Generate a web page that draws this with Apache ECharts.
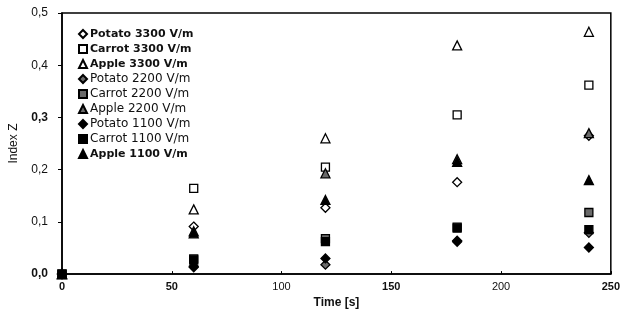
<!DOCTYPE html>
<html><head><meta charset="utf-8">
<script src="https://cdn.jsdelivr.net/npm/echarts@6/dist/echarts.min.js"></script>
<style>html,body{margin:0;padding:0;background:#fff}#c{width:623px;height:314px}</style>
</head><body><div id="c"></div>
<script>
const times = [0, 60, 120, 180, 240];
const potato3300 = [0, 0.091, 0.127, 0.176, 0.265];
const carrot3300 = [0, 0.164, 0.205, 0.305, 0.362];
const apple3300  = [0, 0.124, 0.260, 0.438, 0.464];
const potato2200 = [0, 0.015, 0.018, 0.064, 0.079];
const carrot2200 = [0, 0.029, 0.068, 0.090, 0.118];
const apple2200  = [0, 0.082, 0.193, 0.220, 0.270];
const potato1100 = [0, 0.013, 0.030, 0.062, 0.051];
const carrot1100 = [0, 0.027, 0.062, 0.088, 0.085];
const apple1100  = [0, 0.078, 0.142, 0.215, 0.180];
const seriesNames = ['Potato 3300 V/m','Carrot 3300 V/m','Apple 3300 V/m','Potato 2200 V/m','Carrot 2200 V/m','Apple 2200 V/m','Potato 1100 V/m','Carrot 1100 V/m','Apple 1100 V/m'];
const xTickLabels = ['0','50','100','150','200','250'];
const yTickLabels = ['0,0','0,1','0,2','0,3','0,4','0,5'];

const seriesValues = [potato3300, carrot3300, apple3300, potato2200, carrot2200, apple2200, potato1100, carrot1100, apple1100];
const shapes = ['diamond','rect','triangle'];
const fills = ['#ffffff','#6a6a6a','#000000'];
const boldLegend = [true,true,true,false,false,false,false,false,true];
const boldX = {'0':1,'50':1,'150':1,'250':1};
const boldY = {'0,0':1,'0,3':1};
const FONT = 'Liberation Sans, Arial, sans-serif';
const LFONT = 'DejaVu Sans, sans-serif';

const series = seriesNames.map((n,i)=>{
  const shape = shapes[i%3];
  const sz = shape==='rect' ? 8 : 9;
  return {
    name: n, type: 'scatter', clip: false,
    symbol: shape, symbolSize: sz,
    itemStyle: {color: fills[Math.floor(i/3)], borderColor: '#000', borderWidth: 1.3, opacity: 1},
    data: times.map((t,k)=>[t, seriesValues[i][k]]),
    z: 2 + i
  };
});

const chart = echarts.init(document.getElementById('c'), null, {renderer:'canvas'});
chart.setOption({
  animation: false,
  backgroundColor: '#fff',
  textStyle: {fontFamily: FONT},
  grid: {left: 60, right: 11, top: 13, bottom: 26, show: true, borderColor: '#000', borderWidth: 1.5, backgroundColor: 'transparent'},
  legend: {
    orient: 'vertical', left: 73, top: 23,
    itemWidth: 8, itemHeight: 8, itemGap: 3,
    textStyle: {fontSize: 12, lineHeight: 12, color: '#111', fontFamily: LFONT, padding: [0,0,0,-2]},
    data: seriesNames.map((n,i)=>({name: n, textStyle: boldLegend[i] ? {fontWeight: 'bold', fontSize: 11, lineHeight: 12} : {fontWeight: 'normal'}}))
  },
  xAxis: {
    type: 'value', min: 0, max: 250, interval: 50,
    name: 'Time [s]', nameLocation: 'middle', nameGap: 15,
    nameTextStyle: {fontSize: 12, fontWeight: 'bold', color: '#111'},
    axisLine: {show: true, onZero: false, lineStyle: {color: '#000', width: 1.5}},
    axisTick: {show: true, inside: true, length: 3, lineStyle: {color: '#000', width: 1}},
    axisLabel: {margin: 7, fontSize: 11, color: '#111',
      formatter: v => { const s = xTickLabels[Math.round(v/50)]; return boldX[s] ? '{b|'+s+'}' : s; },
      rich: {b: {fontWeight: 'bold', fontSize: 11, color: '#111'}}},
    splitLine: {show: false}
  },
  yAxis: {
    type: 'value', min: 0, max: 0.5, interval: 0.1,
    name: 'Index Z', nameLocation: 'middle', nameGap: 42, nameRotate: 90,
    nameTextStyle: {fontSize: 12, color: '#111'},
    axisLine: {show: true, onZero: false, lineStyle: {color: '#000', width: 1.5}},
    axisTick: {show: true, inside: false, length: 4, lineStyle: {color: '#000', width: 1}},
    axisLabel: {margin: 14, fontSize: 12, color: '#111',
      formatter: v => { const s = yTickLabels[Math.round(v*10)]; return boldY[s] ? '{b|'+s+'}' : s; },
      rich: {b: {fontWeight: 'bold', fontSize: 12, color: '#111'}}},
    splitLine: {show: false}
  },
  series: series
});
</script></body></html>
